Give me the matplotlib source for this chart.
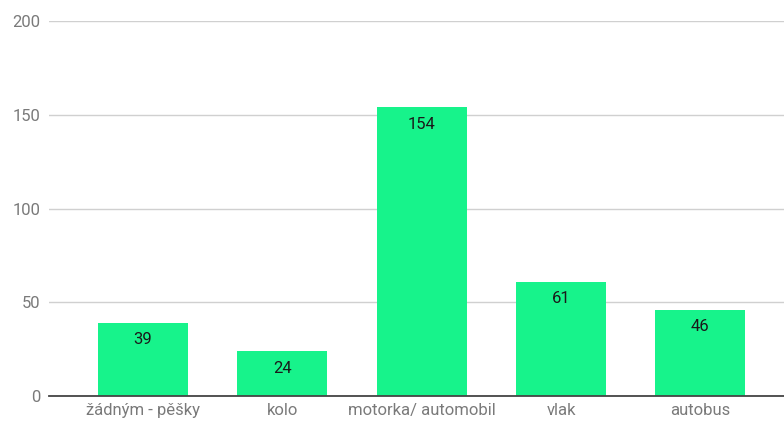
import matplotlib
matplotlib.use("Agg")
from matplotlib import pyplot as plt
import numpy as np

plt.rcParams['font.family'] = ['Roboto', 'DejaVu Sans']

categories = ['žádným - pěšky', 'kolo', 'motorka/ automobil', 'vlak', 'autobus']
counts = [39, 24, 154, 61, 46]
yticks = [0, 50, 100, 150, 200]

fig = plt.figure(figsize=(7.84, 4.23), dpi=100)
ax = fig.add_axes([49 / 784, 27 / 423, 1 - 49 / 784, 375 / 423])

x = np.arange(len(categories))
bars = ax.bar(x, counts, width=0.646, color='#17f38b', zorder=2)

# value labels just inside the top of each bar
for b, v in zip(bars, counts):
    ax.annotate(str(v), (b.get_x() + b.get_width() / 2, v),
                xytext=(0, -17), textcoords='offset pixels',
                ha='center', va='center', fontsize=12, color='#1a1a1a')

ax.set_ylim(0, 200)
ax.set_xlim(-0.675, 4.6)
ax.set_yticks(yticks)
ax.set_xticks(x)
ax.set_xticklabels(categories)
ax.tick_params(axis='both', length=0, labelsize=12, labelcolor='#7a7a7a')
ax.tick_params(axis='y', pad=6)
ax.tick_params(axis='x', pad=5)

ax.grid(axis='y', color='#d0d0d0', linewidth=1, zorder=0)
for s in ['top', 'right', 'left']:
    ax.spines[s].set_visible(False)
ax.spines['bottom'].set_color('#444444')
ax.spines['bottom'].set_linewidth(1.3)
ax.spines['bottom'].set_zorder(3)

fig.savefig('out.png', dpi=100)
